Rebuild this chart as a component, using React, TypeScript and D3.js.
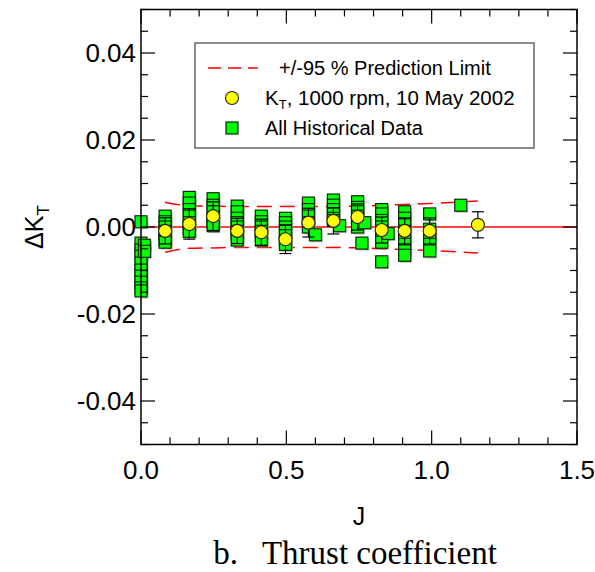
import React from "react";
import * as d3 from "d3";

// Historical data (J, ΔKT)
const histJ = [
  0, 0, 0, 0, 0, 0, 0, 0, 0, 0, 0.012, 0.012,
  0.083, 0.083, 0.083, 0.083, 0.083, 0.083, 0.083,
  0.166, 0.166, 0.166, 0.166, 0.166, 0.166, 0.166,
  0.248, 0.248, 0.248, 0.248, 0.248, 0.248,
  0.331, 0.331, 0.331, 0.331, 0.331, 0.331, 0.331, 0.331,
  0.414, 0.414, 0.414, 0.414, 0.414, 0.414,
  0.497, 0.497, 0.497, 0.497, 0.497, 0.497, 0.497,
  0.576, 0.576, 0.576, 0.576, 0.576, 0.6,
  0.662, 0.662, 0.662, 0.662, 0.662, 0.662, 0.683,
  0.745, 0.745, 0.745, 0.745, 0.745, 0.745, 0.77, 0.76,
  0.828, 0.828, 0.828, 0.828, 0.828, 0.828, 0.828, 0.85, 0.828,
  0.907, 0.907, 0.907, 0.907, 0.907, 0.907, 0.907, 0.907,
  0.993, 0.993, 0.993, 0.993, 0.993, 0.993,
  1.1,
];
const histDK = [
  0.0012, -0.0037, -0.0053, -0.0067, -0.0083, -0.0099, -0.0113, -0.0127, -0.014, -0.0147, -0.0042, -0.0056,
  0.0025, 0.0012, 0.0, -0.001, -0.002, -0.003, -0.0035,
  0.0068, 0.0055, 0.004, 0.0025, 0.001, -0.0003, -0.001,
  0.0065, 0.005, 0.0035, 0.002, 0.001, 0.0003,
  0.0048, 0.0035, 0.002, 0.001, 0.0, -0.001, -0.002, -0.003,
  0.0025, 0.0012, 0.0, -0.001, -0.002, -0.003,
  0.002, 0.001, 0.0, -0.001, -0.002, -0.0035, -0.004,
  0.0055, 0.004, 0.0025, 0.001, 0.0, -0.0018,
  0.0062, 0.005, 0.004, 0.003, 0.002, 0.0015, 0.0003,
  0.0058, 0.0045, 0.0035, 0.0025, 0.0012, 0.0, 0.001, -0.0037,
  0.004, 0.003, 0.0015, 0.0, -0.001, -0.002, -0.0035, -0.0015, -0.008,
  0.0035, 0.002, 0.0005, -0.001, -0.0025, -0.004, -0.0055, -0.0065,
  0.003, -0.0005, -0.0015, -0.0025, -0.004, -0.0055,
  0.005,
];

// KT, 1000 rpm, 10 May 2002
const testJ = [0.083, 0.166, 0.248, 0.331, 0.414, 0.497, 0.576, 0.662, 0.745, 0.828, 0.907, 0.993, 1.159];
const testDK = [-0.0009, 0.0007, 0.0025, -0.0009, -0.0012, -0.0028, 0.001, 0.0014, 0.0023, -0.0007, -0.0009, -0.0009, 0.0005];
const testErr = [0.003, 0.0035, 0.0033, 0.0029, 0.003, 0.0033, 0.0033, 0.003, 0.003, 0.003, 0.003, 0.003, 0.003];

// Prediction limits
const limitJ = [0.083, 0.166, 0.248, 0.331, 0.414, 0.497, 0.576, 0.662, 0.745, 0.828, 0.907, 0.993, 1.159];
const limitUpper = [0.0057, 0.0049, 0.0048, 0.0047, 0.0047, 0.0047, 0.0047, 0.0047, 0.0048, 0.005, 0.0052, 0.0054, 0.006];
const limitLower = [-0.0058, -0.0049, -0.0048, -0.0047, -0.0047, -0.0047, -0.0047, -0.0047, -0.0048, -0.005, -0.0052, -0.0054, -0.006];

const xTickLabels = ["0.0", "0.5", "1.0", "1.5"];
const yTickLabels = ["0.04", "0.02", "0.00", "-0.02", "-0.04"];

export default function App() {
  const W = 595, H = 572;
  const L = 141, R = 577, T = 9.5, B = 444.5;
  const x = d3.scaleLinear().domain([0, 1.5]).range([L, R]);
  const y = d3.scaleLinear().domain([-0.05, 0.05]).range([B, T]);
  const font = "'Liberation Sans', Arial, sans-serif";

  const xTicks = d3.range(0, 15.01, 1).map((d) => d / 10);
  const yTicks = d3.range(-10, 10.01, 1).map((d) => d * 0.005);

  const limLine = d3.line<number>().x((_, i) => x(limitJ[i])).y((d) => y(d)).curve(d3.curveMonotoneX);
  const sq = 12;
  const cr = 6.5;

  return (
    <svg width={W} height={H} style={{ position: "absolute", left: 0, top: 0, background: "#fff" }}>
      <rect x={0} y={0} width={W} height={H} fill="#fff" />
      <defs>
        <clipPath id="plot">
          <rect x={L} y={T} width={R - L} height={B - T} />
        </clipPath>
      </defs>

      {/* zero line */}
      <line x1={x(0)} x2={x(1.5)} y1={y(0)} y2={y(0)} stroke="#ff0000" strokeWidth={1.5} />
      {/* prediction limits */}
      <path d={limLine(limitUpper) || ""} fill="none" stroke="#ff0000" strokeWidth={1.5} strokeDasharray="15 8" />
      <path d={limLine(limitLower) || ""} fill="none" stroke="#ff0000" strokeWidth={1.5} strokeDasharray="15 8" />

      {/* historical squares */}
      <g clipPath="url(#plot)">
        {histJ.map((j, i) => (
          <rect key={"s" + i} x={x(j) - sq / 2 + 1.5} y={y(histDK[i]) - sq / 2 + 1.5} width={sq} height={sq} fill="#999" opacity={0.6} />
        ))}
      </g>
      {histJ.map((j, i) => (
        <rect key={"h" + i} x={x(j) - sq / 2} y={y(histDK[i]) - sq / 2} width={sq} height={sq} fill="#00ff00" stroke="#0a2a0a" strokeWidth={1.2} />
      ))}

      {/* test data with error bars */}
      {testJ.map((j, i) => {
        const cx = x(j);
        const y1 = y(testDK[i] + testErr[i]);
        const y2 = y(testDK[i] - testErr[i]);
        return (
          <g key={"t" + i}>
            <line x1={cx} x2={cx} y1={y1} y2={y2} stroke="#000" strokeWidth={1.2} />
            <line x1={cx - 6} x2={cx + 6} y1={y1} y2={y1} stroke="#000" strokeWidth={1.2} />
            <line x1={cx - 6} x2={cx + 6} y1={y2} y2={y2} stroke="#000" strokeWidth={1.2} />
            <circle cx={cx + 1} cy={y(testDK[i]) + 1} r={cr} fill="#999" opacity={0.5} />
            <circle cx={cx} cy={y(testDK[i])} r={cr} fill="#ffff00" stroke="#222" strokeWidth={1.1} />
          </g>
        );
      })}

      {/* frame */}
      <rect x={L} y={T} width={R - L} height={B - T} fill="none" stroke="#000" strokeWidth={1.5} />

      {/* x ticks */}
      {xTicks.map((t, i) => {
        const major = i % 5 === 0;
        const len = major ? 14 : 7;
        const px = x(t);
        return (
          <g key={"xt" + i}>
            <line x1={px} x2={px} y1={B} y2={B - len} stroke="#000" strokeWidth={1.2} />
            <line x1={px} x2={px} y1={T} y2={T + len} stroke="#000" strokeWidth={1.2} />
          </g>
        );
      })}
      {/* y ticks */}
      {yTicks.map((t, i) => {
        const major = (i - 2) % 4 === 0;
        const len = major ? 14 : 7;
        const py = y(t);
        return (
          <g key={"yt" + i}>
            <line x1={L} x2={L + len} y1={py} y2={py} stroke="#000" strokeWidth={1.2} />
            <line x1={R} x2={R - len} y1={py} y2={py} stroke="#000" strokeWidth={1.2} />
          </g>
        );
      })}

      {/* tick labels */}
      {xTickLabels.map((s) => (
        <text key={"xl" + s} x={x(+s)} y={479} textAnchor="middle" fontFamily={font} fontSize={26}>{s}</text>
      ))}
      {yTickLabels.map((s) => (
        <text key={"yl" + s} x={L - 5} y={y(+s) + 9} textAnchor="end" fontFamily={font} fontSize={26}>{s}</text>
      ))}

      {/* axis titles */}
      <text x={x(0.75)} y={525} textAnchor="middle" fontFamily={font} fontSize={25}>J</text>
      <text transform={`translate(43,${y(0)}) rotate(-90)`} textAnchor="middle" fontFamily={font} fontSize={25}>
        ΔK<tspan fontSize={17} dy={6}>T</tspan>
      </text>

      {/* caption */}
      <text x={355} y={564} textAnchor="middle" fontFamily="'Liberation Serif', 'Times New Roman', serif" fontSize={33}>
        b.<tspan dx={24}>Thrust coefficient</tspan>
      </text>

      {/* legend */}
      <g>
        <rect x={195} y={43} width={339} height={105} fill="#fff" stroke="#666" strokeWidth={1.5} />
        <line x1={208} x2={258} y1={68} y2={68} stroke="#ff0000" strokeWidth={1.5} strokeDasharray="13 7" />
        <text x={279} y={75} fontFamily={font} fontSize={20}>+/-95 % Prediction Limit</text>
        <circle cx={232} cy={98} r={cr} fill="#ffff00" stroke="#222" strokeWidth={1.1} />
        <text x={265} y={105} fontFamily={font} fontSize={20.5}>
          K<tspan fontSize={13} dy={4}>T</tspan><tspan dy={-4}>, 1000 rpm, 10 May 2002</tspan>
        </text>
        <rect x={226} y={122} width={12} height={12} fill="#00ff00" stroke="#0a2a0a" strokeWidth={1.2} />
        <text x={265} y={135} fontFamily={font} fontSize={20}>All Historical Data</text>
      </g>
    </svg>
  );
}
